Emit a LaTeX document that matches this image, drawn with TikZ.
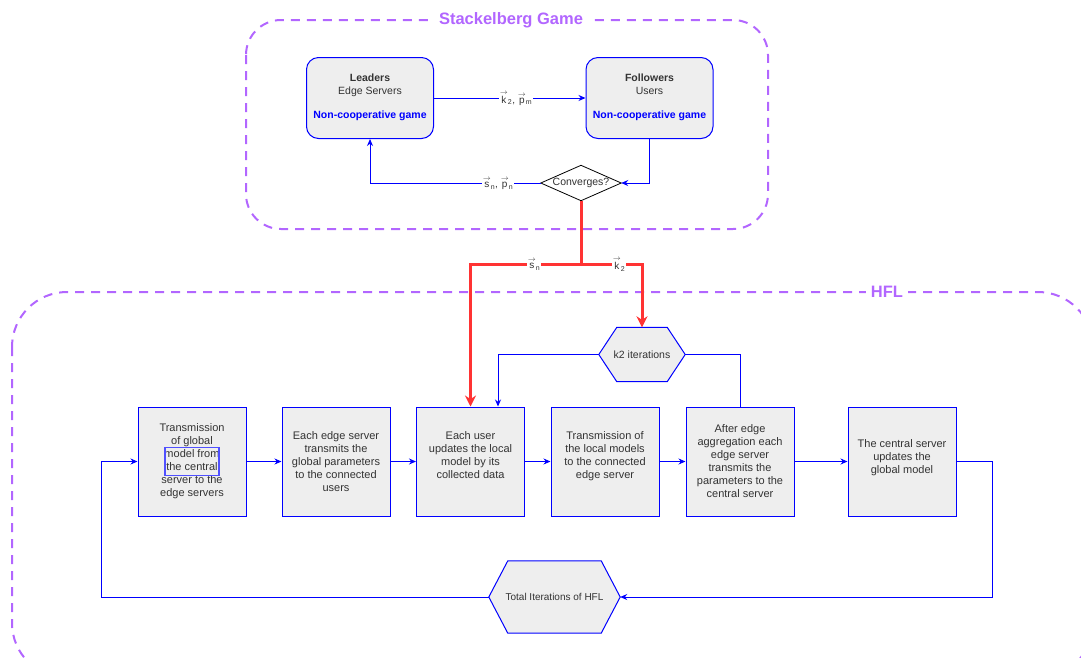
\documentclass[tikz,border=0pt]{standalone}
\usepackage{fontspec}
\setmainfont{Liberation Sans}
\usetikzlibrary{arrows.meta,calc}

\definecolor{flowblue}{RGB}{0,0,255}
\definecolor{markblue}{RGB}{80,80,255}
\definecolor{boxgray}{RGB}{238,238,238}
\definecolor{grouppurple}{RGB}{178,102,255}
\definecolor{flowred}{RGB}{255,51,51}
\definecolor{inktext}{RGB}{51,51,51}

\newcommand\vecsym[1]{\ensuremath{\stackrel{\rightarrow}{\mbox{#1}}}}

% hexagon outline round an (empty) named node
\newcommand\hexframe[2]{%
  \filldraw[draw=flowblue, fill=boxgray, line width=1pt]
    (#1.west) -- ([xshift=#2]#1.north west) -- ([xshift=-#2]#1.north east)
    -- (#1.east) -- ([xshift=-#2]#1.south east) -- ([xshift=#2]#1.south west) -- cycle;}

\tikzset{
  groupframe/.style={draw=grouppurple, line width=2pt, dash pattern=on 9pt off 7pt},
  grouptitle/.style={text=grouppurple, fill=white, font=\fontsize{16.5}{19}\selectfont\bfseries, inner xsep=5pt},
  gamebox/.style={draw=flowblue, fill=boxgray, rounded corners=12pt, line width=1pt,
    minimum width=127pt, minimum height=81pt},
  gametext/.style={text=inktext, align=center, font=\fontsize{10.5}{13}\selectfont},
  gamenote/.style={text=flowblue, font=\fontsize{10.5}{13}\selectfont\bfseries},
  stepbox/.style={draw=flowblue, fill=boxgray, line width=1pt, minimum width=108pt,
    minimum height=109pt, inner sep=0pt},
  steptext/.style={text=inktext, align=center, font=\fontsize{11}{13}\selectfont},
  shapeslot/.style 2 args={minimum width=#1, minimum height=#2, inner sep=0pt},
  flow/.style={draw=flowblue, line width=1pt, -{Stealth[length=7pt,width=6pt]}},
  flowplain/.style={draw=flowblue, line width=1pt},
  redflow/.style={draw=flowred, line width=3pt},
  redarrow/.style={redflow, -{Stealth[length=11pt,width=11pt]}},
  edgelabel/.style={fill=white, inner sep=1pt, text=inktext, font=\fontsize{10}{11}\selectfont},
}

\begin{document}
\begin{tikzpicture}[x=1pt, y=-1pt]
\useasboundingbox (0,0) rectangle (1081,657);
\clip (0,0) rectangle (1081,657);

% group frames
\draw[groupframe, rounded corners=35pt] (246,20) rectangle (768,229);
\draw[groupframe, rounded corners=55pt] (12,292) rectangle (1093,678);

% shapes
\node[gamebox] (leaders) at (370,98) {};
\node[gamebox] (followers) at (649.5,98) {};
\node[shapeslot={80pt}{35pt}] (conv) at (581,183) {};
\filldraw[draw=black, fill=white, line width=0.8pt] (conv.west) -- (conv.north) -- (conv.east) -- (conv.south) -- cycle;

\node[stepbox] (b1) at (192,461.5) {};
\node[stepbox] (b2) at (336,461.5) {};
\node[stepbox] (b3) at (470.5,461.5) {};
\node[stepbox] (b4) at (605,461.5) {};
\node[stepbox] (b5) at (740,461.5) {};
\node[stepbox] (b6) at (902,461.5) {};

\node[shapeslot={86pt}{54pt}] (k2it) at (642,354.5) {};
\hexframe{k2it}{18pt}
\node[shapeslot={131pt}{72pt}] (total) at (554.5,597) {};
\hexframe{total}{19pt}

% connectors
\draw[flow] (leaders.east) -- (followers.west);
\draw[flow] (followers.south) |- (conv.east);
\draw[flow] (conv.west) -| (leaders.south);

\draw[flow] (b1.east) -- (b2.west);
\draw[flow] (b2.east) -- (b3.west);
\draw[flow] (b3.east) -- (b4.west);
\draw[flow] (b4.east) -- (b5.west);
\draw[flow] (b5.east) -- (b6.west);
\draw[flow] (b6.east) -- ++(36,0) |- (total.east);
\draw[flow] (total.west) -| ([xshift=-36pt]b1.west) -- (b1.west);
\draw[flow] (k2it.west) -| ([xshift=27.5pt]b3.north);
\draw[flowplain] (k2it.east) -| (b5.north);

% outcome of the game feeds the HFL process
\coordinate (split) at (581,264);
\draw[redflow] (conv.south) -- (split);
\draw[redarrow] (split) -| (b3.north);
\draw[redarrow] (split) -| (k2it.north);

% texts
\node[grouptitle] (sgtitle) at (511,20) {Stackelberg Game};
\node[grouptitle] (hfltitle) at (887,292) {HFL};

\node[gametext] (leadtext) at (370,85) {\textbf{Leaders}\\Edge Servers};
\node[gamenote] (leadnote) at (370,115.5) {Non-cooperative game};
\node[gametext] (followtext) at (649.5,84.5) {\textbf{Followers}\\Users};
\node[gamenote] (follownote) at (649.5,115.5) {Non-cooperative game};
\node[text=inktext, font=\fontsize{10.5}{13}\selectfont] (convtext) at (conv.center) {Converges?};

\node[edgelabel] (kplab) at (516,98) {\vecsym{k}$_{\mbox{\scriptsize 2}}$, \vecsym{p}$_{\mbox{\scriptsize m}}$};
\node[edgelabel] (splab) at (498,183) {\vecsym{s}$_{\mbox{\scriptsize n}}$, \vecsym{p}$_{\mbox{\scriptsize n}}$};
\node[edgelabel] (snlab) at (534,264) {\vecsym{s}$_{\mbox{\scriptsize n}}$};
\node[edgelabel] (k2lab) at (619,264) {\vecsym{k}$_{\mbox{\scriptsize 2}}$};

\node[steptext] (b1text) at (192,461.5) {Transmission\\of global\\model from\\the central\\server to the\\edge servers};
\node[steptext] (b2text) at (336,461.5) {Each edge server\\transmits the\\global parameters\\to the connected\\users};
\node[steptext] (b3text) at (470.5,455) {Each user\\updates the local\\model by its\\collected data};
\node[steptext] (b4text) at (605,456) {Transmission of\\the local models\\to the connected\\edge server};
\node[steptext] (b5text) at (740,461.5) {After edge\\aggregation each\\edge server\\transmits the\\parameters to the\\central server};
\node[steptext] (b6text) at (902,458) {The central server\\updates the\\global model};
\node[text=inktext, font=\fontsize{10.5}{12}\selectfont] (k2text) at (k2it.center) {k2 iterations};
\node[text=inktext, font=\fontsize{10}{12}\selectfont] (totaltext) at (total.center) {Total Iterations of HFL};

% highlight frame inside the first step
\draw[draw=markblue, line width=1.2pt] (b1.center) ++(-27,-14) rectangle ++(54,28);
\end{tikzpicture}
\end{document}
